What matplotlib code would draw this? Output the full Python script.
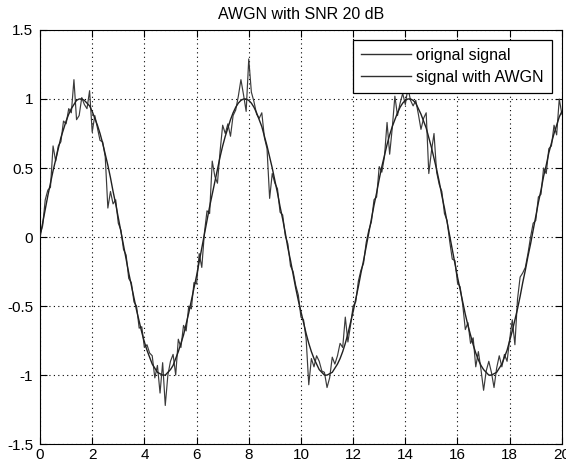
import matplotlib
matplotlib.use("Agg")
import matplotlib.pyplot as plt

plt.rcParams['font.family'] = ['Liberation Sans', 'DejaVu Sans']

t = [round(0.1 * i, 1) for i in range(201)]

original = [
    0.00, 0.10, 0.20, 0.30, 0.39, 0.48, 0.56, 0.64, 0.72, 0.78,
    0.84, 0.89, 0.93, 0.96, 0.99, 1.00, 1.00, 0.99, 0.97, 0.95,
    0.91, 0.86, 0.81, 0.75, 0.68, 0.60, 0.52, 0.43, 0.33, 0.24,
    0.14, 0.04, -0.06, -0.16, -0.26, -0.35, -0.44, -0.53, -0.61, -0.69,
    -0.76, -0.82, -0.87, -0.92, -0.95, -0.98, -0.99, -1.00, -1.00, -0.98,
    -0.96, -0.93, -0.88, -0.83, -0.77, -0.71, -0.63, -0.55, -0.46, -0.37,
    -0.28, -0.18, -0.08, 0.02, 0.12, 0.22, 0.31, 0.40, 0.49, 0.58,
    0.66, 0.73, 0.79, 0.85, 0.90, 0.94, 0.97, 0.99, 1.00, 1.00,
    0.99, 0.97, 0.94, 0.90, 0.85, 0.80, 0.73, 0.66, 0.58, 0.50,
    0.41, 0.32, 0.22, 0.13, 0.03, -0.08, -0.17, -0.27, -0.37, -0.46,
    -0.54, -0.62, -0.70, -0.77, -0.83, -0.88, -0.92, -0.96, -0.98, -1.00,
    -1.00, -0.99, -0.98, -0.95, -0.92, -0.88, -0.83, -0.77, -0.70, -0.62,
    -0.54, -0.45, -0.36, -0.26, -0.17, -0.07, 0.03, 0.13, 0.23, 0.32,
    0.42, 0.51, 0.59, 0.67, 0.74, 0.80, 0.85, 0.90, 0.94, 0.97,
    0.99, 1.00, 1.00, 0.99, 0.97, 0.93, 0.89, 0.84, 0.79, 0.72,
    0.65, 0.57, 0.49, 0.40, 0.30, 0.21, 0.11, 0.01, -0.09, -0.19,
    -0.29, -0.38, -0.47, -0.56, -0.64, -0.71, -0.78, -0.84, -0.89, -0.93,
    -0.96, -0.98, -1.00, -1.00, -0.99, -0.98, -0.95, -0.92, -0.87, -0.82,
    -0.75, -0.68, -0.60, -0.52, -0.43, -0.33, -0.24, -0.14, -0.05, 0.05,
    0.15, 0.25, 0.34, 0.44, 0.52, 0.61, 0.68, 0.75, 0.81, 0.87,
    0.91,
]

noisy = [
    0.02, 0.08, 0.27, 0.34, 0.36, 0.66, 0.55, 0.66, 0.69, 0.84,
    0.82, 0.93, 0.90, 1.14, 0.85, 0.88, 1.01, 0.96, 0.93, 1.06,
    0.76, 0.88, 0.79, 0.70, 0.69, 0.58, 0.21, 0.33, 0.24, 0.27,
    0.10, 0.05, -0.09, -0.13, -0.30, -0.33, -0.47, -0.50, -0.66, -0.65,
    -0.80, -0.78, -0.84, -0.86, -1.02, -0.93, -1.13, -0.91, -1.22, -1.00,
    -0.90, -0.85, -1.00, -0.74, -0.80, -0.64, -0.68, -0.50, -0.52, -0.33,
    -0.34, -0.12, -0.22, 0.03, 0.19, 0.17, 0.55, 0.44, 0.39, 0.62,
    0.81, 0.75, 0.82, 0.73, 0.88, 0.92, 1.02, 1.14, 1.03, 0.91,
    1.29, 1.05, 0.98, 0.89, 0.86, 0.90, 0.72, 0.64, 0.28, 0.46,
    0.39, 0.35, 0.18, 0.16, 0.01, -0.05, -0.21, -0.25, -0.35, -0.42,
    -0.58, -0.60, -0.74, -1.07, -0.88, -0.94, -0.86, -0.90, -0.97, -0.98,
    -1.09, -1.02, -0.87, -0.92, -0.86, -0.77, -0.80, -0.58, -0.76, -0.64,
    -0.50, -0.47, -0.32, -0.24, -0.19, -0.04, 0.05, 0.11, 0.27, 0.29,
    0.51, 0.47, 0.58, 0.83, 0.60, 0.79, 1.02, 0.88, 0.97, 1.04,
    0.96, 1.08, 0.99, 0.95, 0.99, 0.89, 0.78, 0.86, 0.90, 0.46,
    0.62, 0.75, 0.47, 0.38, 0.33, 0.17, 0.12, -0.03, -0.16, -0.17,
    -0.33, -0.36, -0.49, -0.67, -0.62, -0.77, -0.73, -0.94, -0.83, -0.96,
    -1.11, -0.97, -0.90, -0.98, -1.09, -0.95, -0.86, -0.94, -0.85, -0.90,
    -0.74, -0.60, -0.78, -0.45, -0.29, -0.26, -0.22, -0.12, 0.00, 0.10,
    0.12, 0.29, 0.31, 0.50, 0.46, 0.64, 0.66, 0.81, 0.74, 1.00,
    0.89,
]

title = "AWGN with SNR 20 dB"
labels = ["orignal signal", "signal with AWGN"]
xticks = list(range(0, 21, 2))
yticks = [-1.5, -1, -0.5, 0, 0.5, 1, 1.5]
ytick_labels = ["-1.5", "-1", "-0.5", "0", "0.5", "1", "1.5"]

fig = plt.figure(figsize=(5.66, 4.68), dpi=100)
ax = fig.add_axes([0.0707, 0.051, 0.922, 0.885])

ax.plot(t, original, color='#202020', lw=1.0, label=labels[0], zorder=3)
ax.plot(t, noisy, color='#3a3a3a', lw=0.85, label=labels[1], zorder=2)

ax.set_xlim(0, 20)
ax.set_ylim(-1.5, 1.5)
ax.set_xticks(xticks)
ax.set_yticks(yticks)
ax.set_yticklabels(ytick_labels)
ax.grid(True, linestyle=(0, (1, 3)), color='black', lw=0.8)
ax.tick_params(direction='in', length=5, width=0.8, top=True, right=True,
               labelsize=11, pad=3, colors='black')
ax.tick_params(axis='y', pad=5)
for s in ax.spines.values():
    s.set_linewidth(0.8)
    s.set_color('black')

ax.set_title(title, fontsize=11.5, pad=8)

leg = ax.legend(loc='upper right', bbox_to_anchor=(0.981, 0.976),
                borderaxespad=0, fontsize=11.5, handlelength=3.1,
                fancybox=False, framealpha=1, edgecolor='black',
                borderpad=0.5, labelspacing=0.45, handletextpad=0.35)
leg.get_frame().set_linewidth(0.9)
for line in leg.get_lines():
    line.set_linewidth(1.0)
    line.set_color('#303030')

fig.savefig("out.png", dpi=100)
